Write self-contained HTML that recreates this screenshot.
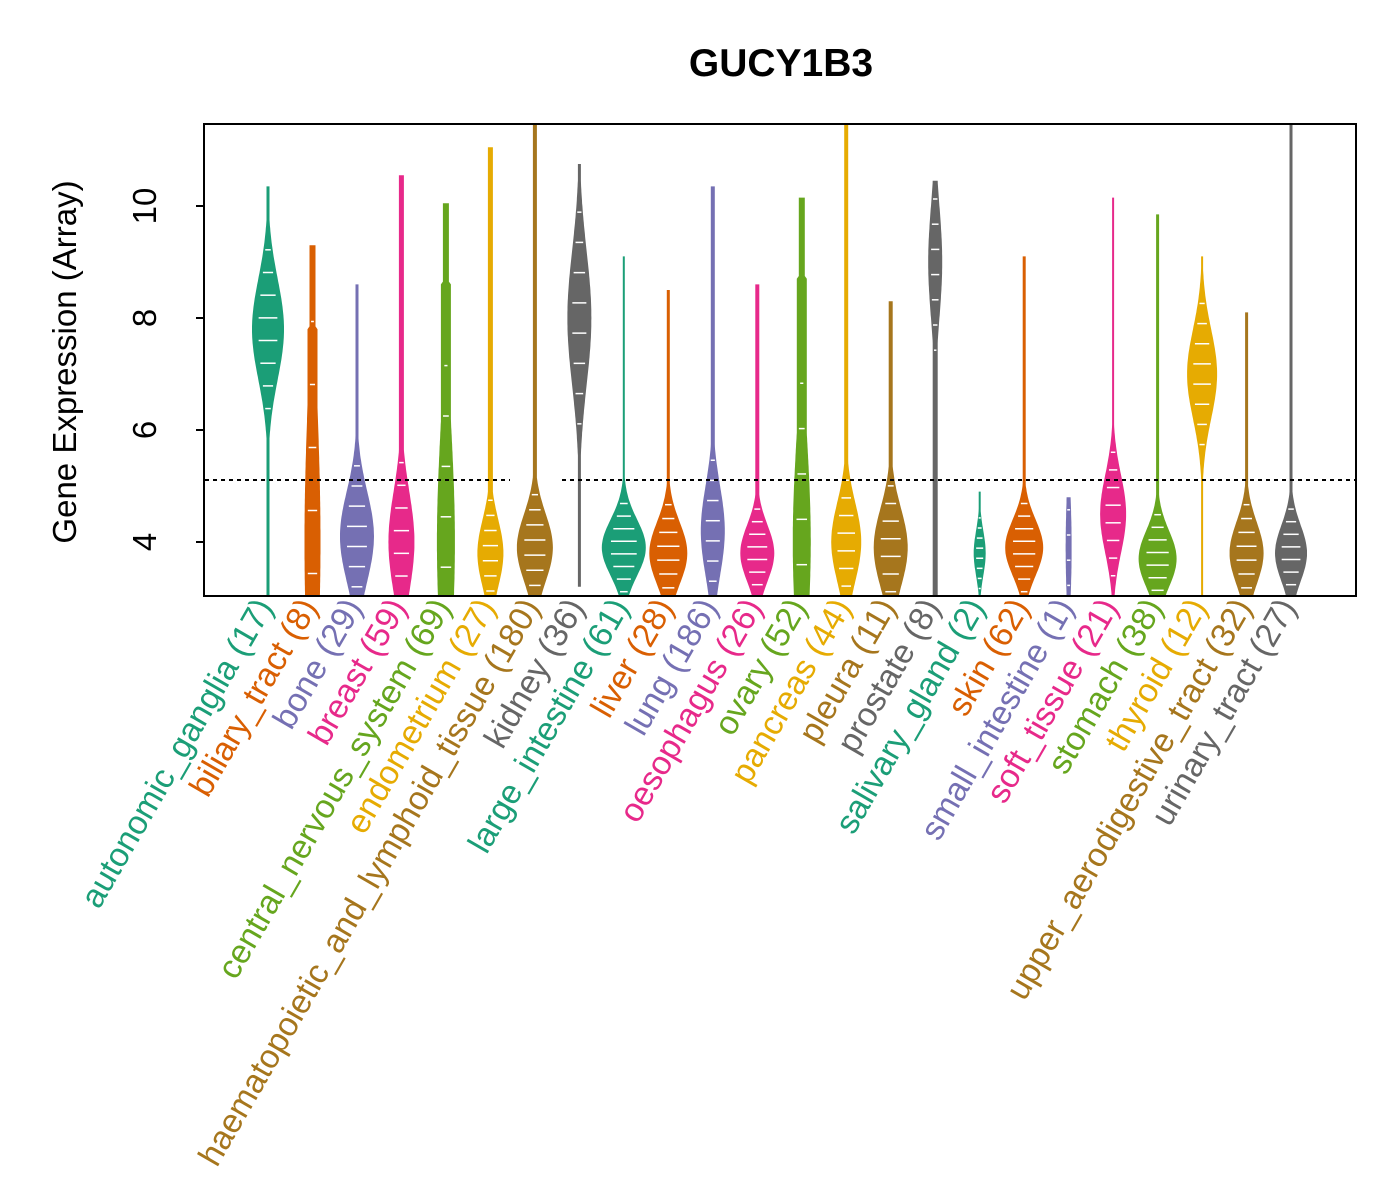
<!DOCTYPE html>
<html><head><meta charset="utf-8"><style>
body{margin:0;background:#fff}
svg{display:block;font-family:"Liberation Sans",sans-serif}
</style></head><body>
<svg id="s" width="1400" height="1200" xmlns="http://www.w3.org/2000/svg">
<rect width="1400" height="1200" fill="#fff"/>
<text x="781" y="76" font-size="39" font-weight="bold" text-anchor="middle">GUCY1B3</text>
<g id="v"></g>
<line x1="205" y1="480" x2="510" y2="480" stroke="#000" stroke-width="2" stroke-dasharray="4,4"/>
<line x1="562" y1="480" x2="1355" y2="480" stroke="#000" stroke-width="2" stroke-dasharray="4,4"/>
<rect x="204" y="124" width="1152" height="472" fill="none" stroke="#000" stroke-width="2"/>
<g stroke="#000" stroke-width="2">
<line x1="196" y1="206" x2="204" y2="206"/><line x1="196" y1="318" x2="204" y2="318"/>
<line x1="196" y1="430" x2="204" y2="430"/><line x1="196" y1="542" x2="204" y2="542"/>
</g>
<g font-size="33" text-anchor="middle">
<text transform="translate(156,206) rotate(-90)">10</text>
<text transform="translate(156,318) rotate(-90)">8</text>
<text transform="translate(156,430) rotate(-90)">6</text>
<text transform="translate(156,542) rotate(-90)">4</text>
<text transform="translate(76,362) rotate(-90)">Gene Expression (Array)</text>
</g>
<g id="lab" font-size="33.5" text-anchor="end"></g>
</svg>
<script>
var C=["#1B9E77","#D95F02","#7570B3","#E7298A","#66A61E","#E6AB02","#A6761D","#666666"];
var N=["autonomic_ganglia (17)","biliary_tract (8)","bone (29)","breast (59)","central_nervous_system (69)","endometrium (27)","haematopoietic_and_lymphoid_tissue (180)","kidney (36)","large_intestine (61)","liver (28)","lung (186)","oesophagus (26)","ovary (52)","pancreas (44)","pleura (11)","prostate (8)","salivary_gland (2)","skin (62)","small_intestine (1)","soft_tissue (21)","stomach (38)","thyroid (12)","upper_aerodigestive_tract (32)","urinary_tract (27)"];
var D=[[3,10.4,7.8,16,0.9,2],[3,9.3,4,8,2.5,3],[3,8.6,4.1,17,0.8,2],[3,10.6,4,13,0.9,4],[3,10.1,4,9,2,3],[3,11.1,3.8,13,0.6,4],[3,11.46,3.9,18,0.6,3],[3.2,10.8,8,12,1.2,2],
[3,9.1,3.9,22,0.5,1],[3,8.5,3.8,19,0.55,2],[3,10.4,4.2,12,0.8,3],[3,8.6,3.8,17,0.5,3],[3,10.2,4,9,1.8,3],[3,11.46,4,15,0.7,3],[3,8.3,3.9,17,0.7,3],[3,10.5,9,7,1.0,4],
[3,4.9,3.8,6,0.4,1],[3,9.1,3.9,19,0.5,2],[3,4.8,3.9,3,1,1],[3,10.2,4.5,13,0.7,1],[3,9.9,3.7,19,0.5,2],[3,9.1,7,15,0.8,1],[3,8.1,3.8,17,0.55,2],[3,11.46,3.8,16,0.5,2]];
function Y(v){return 542-(v-4)*56}
var g=document.getElementById('v'),L=document.getElementById('lab'),ns="http://www.w3.org/2000/svg";
for(var i=0;i<24;i++){
 var x=268+i*44.48,d=D[i],c=C[i%8],pts=[],pl=[];
 for(var v=d[0];v<=d[1];v+=0.05){
  var w=Math.max(d[5]/2+0.5,d[3]*Math.exp(-Math.pow(v-d[2],2)/(2*d[4]*d[4])));
  if(i==1||i==4||i==12) w=Math.max(w,d[5]+ (v<d[1]-1.5?2:0));
  var y=Math.max(124,Math.min(596,Y(v)));
  pts.push((x+w).toFixed(1)+","+y.toFixed(1));pl.unshift((x-w).toFixed(1)+","+y.toFixed(1));
 }
 var p=document.createElementNS(ns,"polygon");p.setAttribute("points",pts.concat(pl).join(" "));p.setAttribute("fill",c);g.appendChild(p);
 for(var k=0;k<8;k++){var vv=d[2]+(k-3.5)*d[4]*0.45;if(vv<d[0]||vv>d[1])continue;
  var ww=d[3]*Math.exp(-Math.pow(vv-d[2],2)/(2*d[4]*d[4]))*0.6;
  var l=document.createElementNS(ns,"line");l.setAttribute("x1",x-ww);l.setAttribute("x2",x+ww);l.setAttribute("y1",Y(vv));l.setAttribute("y2",Y(vv));l.setAttribute("stroke","#fff");l.setAttribute("stroke-width","1.5");g.appendChild(l);}
 var t=document.createElementNS(ns,"text");t.setAttribute("transform","translate("+(x+6)+",607) rotate(-60)");t.setAttribute("fill",c);t.textContent=N[i];L.appendChild(t);
}
</script>
</body></html>
